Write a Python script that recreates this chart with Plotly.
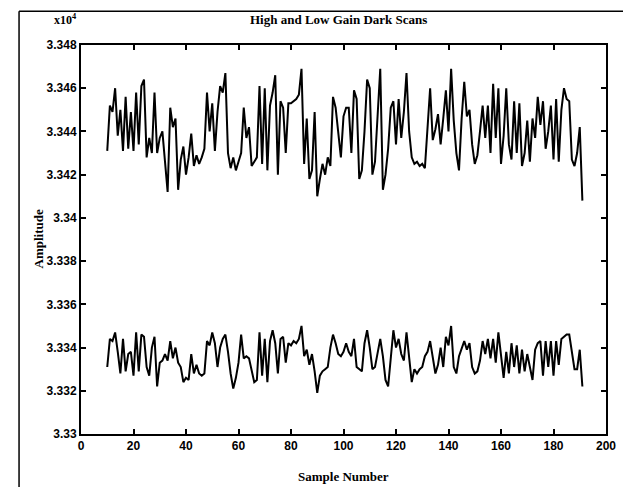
import plotly.graph_objects as go

# Sample numbers 10..191
sample_start = 10
high_gain = [
    3.3431, 3.3452, 3.3449, 3.3460, 3.3438, 3.3450, 3.3431, 3.3456, 3.3432, 3.3449,
    3.3431, 3.3458, 3.3434, 3.3461, 3.3464, 3.3428, 3.3437, 3.3430, 3.3458, 3.3430,
    3.3437, 3.3440, 3.3426, 3.3412, 3.3451, 3.3442, 3.3446, 3.3413, 3.3427, 3.3433,
    3.3420, 3.3428, 3.3439, 3.3424, 3.3429, 3.3425, 3.3428, 3.3432, 3.3458, 3.3440,
    3.3453, 3.3431, 3.3449, 3.3461, 3.3458, 3.3467, 3.3430, 3.3423, 3.3428, 3.3422,
    3.3426, 3.3430, 3.3451, 3.3437, 3.3442, 3.3424, 3.3426, 3.3428, 3.3461, 3.3425,
    3.3460, 3.3422, 3.3452, 3.3458, 3.3466, 3.3420, 3.3454, 3.3451, 3.3430, 3.3453,
    3.3453, 3.3454, 3.3455, 3.3457, 3.3469, 3.3425, 3.3446, 3.3418, 3.3422, 3.3449,
    3.3410, 3.3418, 3.3425, 3.3420, 3.3428, 3.3424, 3.3456, 3.3451, 3.3440, 3.3428,
    3.3447, 3.3451, 3.3451, 3.3430, 3.3459, 3.3455, 3.3418, 3.3422, 3.3440, 3.3464,
    3.3460, 3.3420, 3.3426, 3.3445, 3.3469, 3.3413, 3.3420, 3.3432, 3.3451, 3.3454,
    3.3434, 3.3455, 3.3437, 3.3449, 3.3467, 3.3440, 3.3428, 3.3425, 3.3426, 3.3424,
    3.3425, 3.3423, 3.3440, 3.3460, 3.3436, 3.3441, 3.3448, 3.3434, 3.3446, 3.3459,
    3.3440, 3.3469, 3.3445, 3.3430, 3.3422, 3.3446, 3.3463, 3.3447, 3.3450, 3.3434,
    3.3425, 3.3429, 3.3440, 3.3452, 3.3437, 3.3452, 3.3430, 3.3462, 3.3437, 3.3460,
    3.3425, 3.3438, 3.3460, 3.3434, 3.3427, 3.3454, 3.3430, 3.3453, 3.3424, 3.3430,
    3.3445, 3.3426, 3.3446, 3.3437, 3.3456, 3.3443, 3.3454, 3.3432, 3.3440, 3.3452,
    3.3427, 3.3455, 3.3426, 3.3450, 3.3460, 3.3455, 3.3454, 3.3427, 3.3424, 3.3430,
    3.3442, 3.3408,
]
low_gain = [
    3.3331, 3.3344, 3.3343, 3.3347, 3.3338, 3.3328, 3.3344, 3.3329, 3.3337, 3.3338,
    3.3327, 3.3347, 3.3329, 3.3346, 3.3345, 3.3331, 3.3327, 3.3340, 3.3345, 3.3322,
    3.3333, 3.3334, 3.3337, 3.3334, 3.3343, 3.3335, 3.3340, 3.3333, 3.3331, 3.3324,
    3.3326, 3.3325, 3.3337, 3.3328, 3.3332, 3.3328, 3.3327, 3.3328, 3.3343, 3.3341,
    3.3347, 3.3342, 3.3331, 3.3340, 3.3344, 3.3346, 3.3338, 3.3328, 3.3321, 3.3326,
    3.3333, 3.3346, 3.3335, 3.3336, 3.3335, 3.3329, 3.3324, 3.3325, 3.3347, 3.3327,
    3.3344, 3.3324, 3.3343, 3.3348, 3.3342, 3.3328, 3.3344, 3.3345, 3.3333, 3.3342,
    3.3341, 3.3343, 3.3342, 3.3344, 3.3350, 3.3336, 3.3339, 3.3332, 3.3337, 3.3329,
    3.3319, 3.3327, 3.3329, 3.3330, 3.3331, 3.3340, 3.3346, 3.3342, 3.3337, 3.3336,
    3.3338, 3.3342, 3.3338, 3.3336, 3.3344, 3.3331, 3.3330, 3.3329, 3.3342, 3.3348,
    3.3340, 3.3330, 3.3331, 3.3338, 3.3344, 3.3336, 3.3325, 3.3322, 3.3337, 3.3348,
    3.3340, 3.3344, 3.3337, 3.3334, 3.3347, 3.3334, 3.3324, 3.3330, 3.3328, 3.3330,
    3.3331, 3.3336, 3.3338, 3.3343, 3.3335, 3.3328, 3.3332, 3.3340, 3.3331, 3.3345,
    3.3341, 3.3350, 3.3331, 3.3328, 3.3336, 3.3340, 3.3343, 3.3339, 3.3342, 3.3331,
    3.3328, 3.3329, 3.3334, 3.3343, 3.3337, 3.3344, 3.3335, 3.3344, 3.3333, 3.3347,
    3.3335, 3.3326, 3.3338, 3.3328, 3.3342, 3.3331, 3.3341, 3.3328, 3.3339, 3.3329,
    3.3337, 3.3331, 3.3325, 3.3339, 3.3342, 3.3343, 3.3327, 3.3343, 3.3331, 3.3343,
    3.3327, 3.3343, 3.3332, 3.3344, 3.3345, 3.3346, 3.3346, 3.3339, 3.3330, 3.3330,
    3.3339, 3.3322,
]
samples = list(range(sample_start, sample_start + len(high_gain)))

x_ticks = [0, 20, 40, 60, 80, 100, 120, 140, 160, 180, 200]
y_ticks = [3.33, 3.332, 3.334, 3.336, 3.338, 3.34, 3.342, 3.344, 3.346, 3.348]
y_tick_text = ["3.33", "3.332", "3.334", "3.336", "3.338", "3.34", "3.342", "3.344", "3.346", "3.348"]

SERIF = "Liberation Serif"
SANS = "Liberation Sans"

fig = go.Figure()
fig.add_trace(go.Scatter(x=samples, y=high_gain, mode="lines",
                         line=dict(color="black", width=2), showlegend=False))
fig.add_trace(go.Scatter(x=samples, y=low_gain, mode="lines",
                         line=dict(color="black", width=2), showlegend=False))

axis_common = dict(showgrid=False, zeroline=False, showline=True, linecolor="black",
                   linewidth=2, mirror="ticks", ticks="inside", ticklen=5,
                   tickcolor="black", tickwidth=1.5,
                   tickfont=dict(family=SANS, size=12, color="black", weight="bold"))

fig.update_xaxes(range=[0, 200], tickvals=x_ticks, ticktext=[str(v) for v in x_ticks],
                 **axis_common)
fig.update_yaxes(range=[3.33, 3.348], tickvals=y_ticks, ticktext=y_tick_text,
                 **axis_common)

fig.update_layout(
    width=631, height=487,
    margin=dict(l=73, r=33, t=37, b=61),
    paper_bgcolor="white", plot_bgcolor="white",
    font=dict(family=SERIF, color="black"),
)

fig.add_annotation(text="High and Low Gain Dark Scans", xref="paper", yref="paper",
                   x=0.49, y=1.065, showarrow=False, yanchor="middle",
                   font=dict(family=SERIF, size=13, color="black", weight="bold"))
fig.add_annotation(text="x10<sup>4</sup>", xref="paper", yref="paper",
                   x=-0.055, y=1.065, yanchor="middle", showarrow=False,
                   font=dict(family=SERIF, size=12, color="black", weight="bold"))
fig.add_annotation(text="Sample Number", xref="paper", yref="paper",
                   x=0.5, y=-0.108, showarrow=False, yanchor="middle",
                   font=dict(family=SERIF, size=13, color="black", weight="bold"))
fig.add_annotation(text="Amplitude", xref="paper", yref="paper",
                   x=-0.1, y=0.5, showarrow=False, textangle=-90,
                   font=dict(family=SERIF, size=13, color="black", weight="bold"))

# outer frame of the scanned page (left, top, right full; bottom only partly visible)
frame = dict(color="black", width=1.5)
fig.add_shape(type="line", xref="paper", yref="paper", x0=-0.118, x1=-0.118, y0=-0.16, y1=1.087, line=frame)
fig.add_shape(type="line", xref="paper", yref="paper", x0=-0.118, x1=1.053, y0=1.087, y1=1.087, line=frame)
fig.add_shape(type="line", xref="paper", yref="paper", x0=1.053, x1=1.053, y0=-0.16, y1=1.087, line=frame)
fig.add_shape(type="line", xref="paper", yref="paper", x0=0.29, x1=0.81, y0=-0.152, y1=-0.152,
              line=dict(color="black", width=1))

fig.write_html("out.html")
